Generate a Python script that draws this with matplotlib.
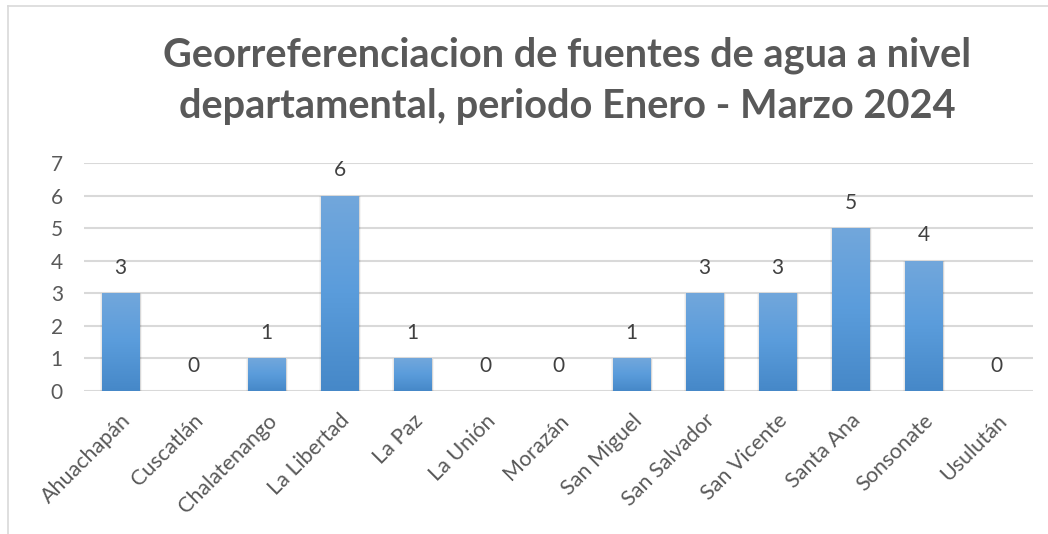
import numpy as np
import matplotlib.pyplot as plt
from matplotlib.lines import Line2D
from matplotlib.colors import LinearSegmentedColormap

departamentos = ['Ahuachapán', 'Cuscatlán', 'Chalatenango', 'La Libertad', 'La Paz',
                 'La Unión', 'Morazán', 'San Miguel', 'San Salvador', 'San Vicente',
                 'Santa Ana', 'Sonsonate', 'Usulután']
fuentes = [3, 0, 1, 6, 1, 0, 0, 1, 3, 3, 5, 4, 0]
y_ticks = [0, 1, 2, 3, 4, 5, 6, 7]

titulo = 'Georreferenciacion de fuentes de agua a nivel\ndepartamental, periodo Enero - Marzo 2024'

gris = '#595959'
plt.rcParams['font.family'] = ['Lato', 'DejaVu Sans']

fig = plt.figure(figsize=(10.48, 5.34), dpi=100)
ax = fig.add_axes([84/1048, 1 - 391/534, (1033 - 84)/1048, (391 - 163)/534])

x = np.arange(len(departamentos))
bars = ax.bar(x, fuentes, width=0.51, color='#5b9bd5', zorder=3)

# gradient fill, lighter at the top
cmap = LinearSegmentedColormap.from_list('barra', ['#4688c8', '#5a9cdb', '#72a7dc'])
grad = np.linspace(0, 1, 256).reshape(-1, 1)
for b in bars:
    h = b.get_height()
    if h <= 0:
        continue
    x0 = b.get_x()
    w = b.get_width()
    # soft shadow, a few faint layers
    for k, a in [(0.07, 0.04), (0.045, 0.05), (0.02, 0.07)]:
        ax.bar(x0 + w/2 + 0.01, h + k*0.6, width=w + k, bottom=-k*0.8,
               color='#000000', alpha=a, linewidth=0, zorder=2)
    im = ax.imshow(grad, extent=[x0, x0 + w, 0, h], origin='lower', cmap=cmap,
                   aspect='auto', zorder=4)
    im.set_clip_path(b)

for xi, v in zip(x, fuentes):
    ax.annotate(str(v), (xi, v), xytext=(0, 11), textcoords='offset points',
                ha='center', va='bottom', fontsize=15, color='#404040', zorder=5)

ax.set_xlim(-0.5, len(departamentos) - 0.5)
ax.set_ylim(0, 7)
ax.set_yticks(y_ticks)
ax.set_xticks(x)
ax.set_xticklabels(departamentos, rotation=45, ha='right', rotation_mode='anchor')
ax.tick_params(axis='both', length=0, labelcolor=gris)
ax.tick_params(axis='x', pad=14, labelsize=15.5)
ax.tick_params(axis='y', pad=24, labelsize=15)
for lbl in ax.get_yticklabels():
    lbl.set_horizontalalignment('left')
ax.grid(axis='y', color='#d9d9d9', linewidth=1.5, zorder=0)
ax.set_axisbelow(True)
for s in ax.spines.values():
    s.set_visible(False)

fig.text(567/1048, 1 - 81/534, titulo, ha='center', va='center', fontsize=28.6,
         fontweight='bold', color=gris, linespacing=1.46)

# chart frame (only left and top edges fall inside the picture)
fig.add_artist(Line2D([8/1048, 8/1048], [0, 1 - 6/534], color='#d9d9d9', lw=1.2))
fig.add_artist(Line2D([8/1048, 1], [1 - 6/534, 1 - 6/534], color='#d9d9d9', lw=1.2))

fig.savefig('out.png', dpi=100)
